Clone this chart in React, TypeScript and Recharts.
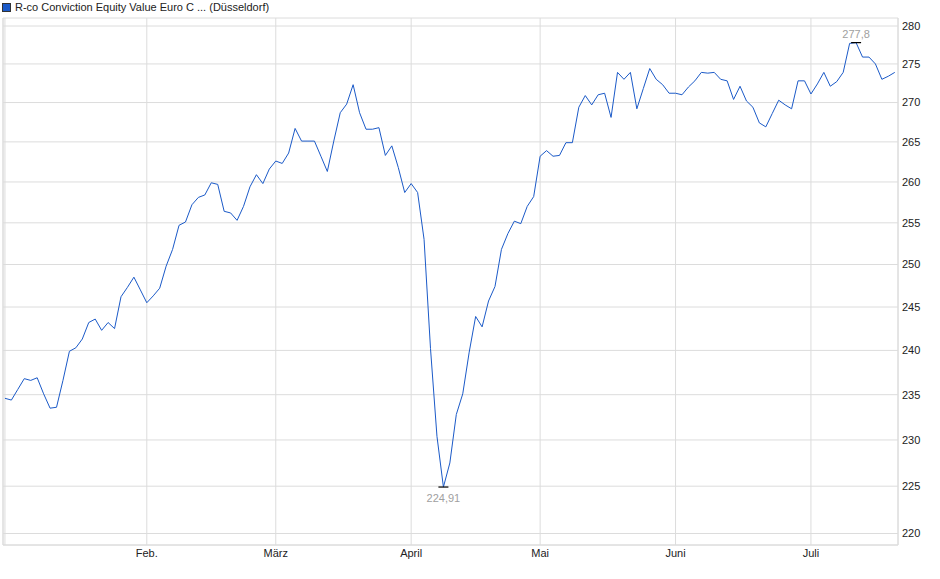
import React from 'react';
import {
  LineChart,
  Line,
  XAxis,
  YAxis,
  CartesianGrid,
  ReferenceLine,
} from 'recharts';

// Tageskurse (Handelstage ab 2. Januar)
const values = [
  234.6, 234.4, 235.6, 236.8, 236.6, 236.9, 235.1, 233.5, 233.6, 236.6,
  239.9, 240.3, 241.3, 243.2, 243.6, 242.3, 243.2, 242.5, 246.2, 247.3,
  248.5, 247.0, 245.5, 246.3, 247.2, 249.8, 251.8, 254.7, 255.1, 257.2,
  258.1, 258.4, 259.9, 259.7, 256.4, 256.2, 255.3, 257.0, 259.4, 260.9,
  259.8, 261.6, 262.6, 262.3, 263.6, 266.7, 265.1, 265.1, 265.1, 263.2,
  261.3, 265.1, 268.7, 269.8, 272.3, 268.7, 266.6, 266.6, 266.8, 263.3,
  264.5, 261.8, 258.7, 259.8, 258.7, 253.0, 240.2, 230.4, 224.91, 227.5,
  232.8, 235.1, 239.8, 243.9, 242.7, 245.7, 247.4, 251.8, 253.7, 255.2,
  254.9, 257.0, 258.2, 263.2, 263.9, 263.2, 263.3, 264.9, 264.9, 269.4,
  270.9, 269.7, 271.0, 271.2, 268.1, 273.9, 273.0, 273.9, 269.2, 271.8,
  274.4, 273.0, 272.3, 271.2, 271.2, 271.0, 272.0, 272.8, 273.9, 273.8,
  273.9, 273.0, 272.8, 270.4, 272.1, 270.2, 269.4, 267.4, 266.9, 268.6,
  270.3, 269.7, 269.2, 272.8, 272.8, 271.1, 272.4, 273.9, 272.1, 272.7,
  273.9, 277.7, 277.8, 275.9, 275.9, 275.0, 273.0, 273.4, 273.9,
];

// erster Handelstag je Monat (Index) und Beschriftung
const monthTicks = [0, 22, 42, 63, 83, 104, 125];
const monthLabels = ['', 'Feb.', 'März', 'April', 'Mai', 'Juni', 'Juli'];

const priceTicks = [220, 225, 230, 235, 240, 245, 250, 255, 260, 265, 270, 275, 280];

const seriesName = 'R-co Conviction Equity Value Euro C ... (Düsseldorf)';

const data = values.map((v, i) => ({ i, v }));

const minIndex = values.indexOf(Math.min(...values));
const maxIndex = values.indexOf(Math.max(...values));

const formatDe = (v: number) => String(v).replace('.', ',');

const LINE_COLOR = '#1b5ac8';
const GRID_COLOR = '#dcdcdc';
const FONT = '"Liberation Sans", Arial, sans-serif';

// Markierung für Hoch und Tief
const ExtremeDot = (props: any) => {
  const { cx, cy, index } = props;
  if (index !== minIndex && index !== maxIndex) return <g key={`d-${index}`} />;
  const isMin = index === minIndex;
  return (
    <g key={`d-${index}`}>
      <line x1={cx - 5} x2={cx + 5} y1={cy} y2={cy} stroke="#000" strokeWidth={1.2} />
      <text
        x={cx}
        y={isMin ? cy + 15 : cy - 5}
        textAnchor="middle"
        fontSize={11}
        fontFamily={FONT}
        fill="#a0a0a0"
      >
        {formatDe(values[index])}
      </text>
    </g>
  );
};

export default function App() {
  return (
    <div
      style={{
        position: 'absolute',
        left: 0,
        top: 0,
        width: 940,
        height: 579,
        background: '#fff',
        fontFamily: FONT,
      }}
    >
      <div
        style={{
          position: 'absolute',
          left: 2,
          top: 1,
          fontSize: 11,
          color: '#222',
          display: 'flex',
          alignItems: 'center',
          whiteSpace: 'nowrap',
        }}
      >
        <span
          style={{
            display: 'inline-block',
            width: 7,
            height: 7,
            background: LINE_COLOR,
            border: '1px solid #333',
            marginRight: 4,
          }}
        />
        {seriesName}
      </div>
      <LineChart
        width={940}
        height={579}
        data={data}
        margin={{ top: 18, right: 0, bottom: 14, left: 3 }}
      >
        <CartesianGrid stroke={GRID_COLOR} strokeWidth={1} />
        <XAxis
          dataKey="i"
          type="number"
          domain={[-0.3, 138.5]}
          allowDataOverflow
          ticks={monthTicks}
          tickFormatter={(t: number) => monthLabels[monthTicks.indexOf(t)]}
          tickSize={0}
          tickMargin={4}
          height={20}
          axisLine={{ stroke: GRID_COLOR }}
          tick={{ fontSize: 11, fill: '#222', fontFamily: FONT }}
        />
        <YAxis
          orientation="right"
          scale="log"
          domain={[218.8, 281.07]}
          allowDataOverflow
          ticks={priceTicks}
          tickSize={0}
          tickMargin={4}
          width={42}
          axisLine={{ stroke: GRID_COLOR }}
          tick={{ fontSize: 11, fill: '#222', fontFamily: FONT, textAnchor: 'start' }}
        />
        <ReferenceLine x={-0.3} stroke={GRID_COLOR} />
        <Line
          type="linear"
          dataKey="v"
          stroke={LINE_COLOR}
          strokeWidth={1}
          dot={ExtremeDot}
          activeDot={false}
          isAnimationActive={false}
        />
      </LineChart>
    </div>
  );
}
